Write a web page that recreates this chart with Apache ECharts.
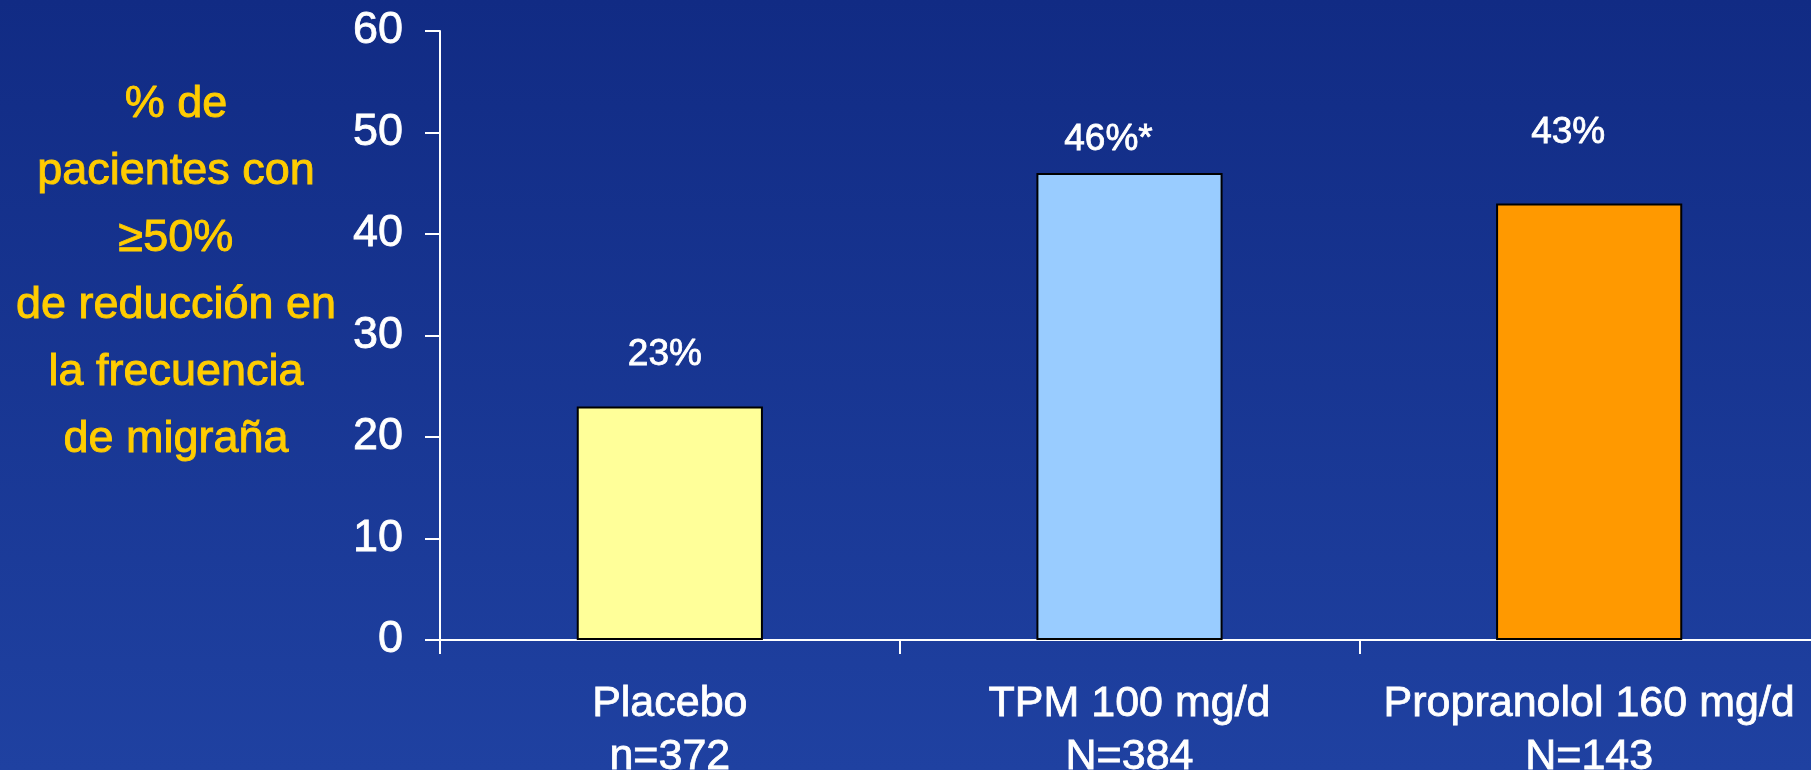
<!DOCTYPE html>
<html>
<head>
<meta charset="utf-8">
<title>Reducción de la frecuencia de migraña</title>
<script src="https://cdn.jsdelivr.net/npm/echarts@6/dist/echarts.min.js"></script>
<style>
  html, body { margin: 0; padding: 0; background: #172f8f; }
  #chart { width: 1811px; height: 770px; }
</style>
</head>
<body>
<div id="chart"></div>
<script>
// Treatment groups (label + sample size)
const categories = ['Placebo\nn=372', 'TPM 100 mg/d\nN=384', 'Propranolol 160 mg/d\nN=143'];
// % of patients with >=50% reduction in migraine frequency
const values = [23, 46, 43];
const valueLabels = ['23%', '46%*', '43%'];
const barColors = ['#FFFF99', '#99CCFF', '#FF9900'];
// Gap between bar top and its value label, and its sideways nudge
const labelGaps = [33, 15, 52];
const labelShifts = [-5, -21, -21];
const yAxisTitle = ['% de', 'pacientes con', '≥50%', 'de reducción en', 'la frecuencia', 'de migraña'];

const FONT = '"Liberation Sans", Arial, Helvetica, sans-serif';

const chart = echarts.init(document.getElementById('chart'), null, { renderer: 'canvas' });

const option = {
  backgroundColor: new echarts.graphic.LinearGradient(0, 0, 0, 1, [
    { offset: 0, color: '#112b84' },
    { offset: 1, color: '#1f41a1' }
  ]),
  animation: false,
  grid: { left: 440, right: -8, top: 31, bottom: 130, containLabel: false, outerBoundsMode: 'none' },
  graphic: [{
    type: 'text',
    x: 176,
    y: 71,
    style: {
      text: yAxisTitle.join('\n'),
      fill: '#FFCC00',
      stroke: '#FFCC00',
      lineWidth: 0.9,
      font: '45px ' + FONT,
      lineHeight: 67,
      textAlign: 'center',
      textVerticalAlign: 'top'
    }
  }],
  xAxis: {
    type: 'category',
    data: categories,
    axisLine: { lineStyle: { color: '#ffffff', width: 2 } },
    axisTick: { show: true, length: 14, lineStyle: { color: '#ffffff', width: 2 } },
    axisLabel: {
      color: '#ffffff',
      fontFamily: FONT,
      fontSize: 43,
      lineHeight: 53,
      margin: 38,
      interval: 0,
      textBorderColor: '#ffffff',
      textBorderWidth: 0.8
    }
  },
  yAxis: {
    type: 'value',
    min: 0,
    max: 60,
    interval: 10,
    splitLine: { show: false },
    axisLine: { show: true, lineStyle: { color: '#ffffff', width: 2 } },
    axisTick: { show: true, length: 15, lineStyle: { color: '#ffffff', width: 2 } },
    axisLabel: {
      color: '#ffffff',
      fontFamily: FONT,
      fontSize: 45,
      margin: 37,
      textBorderColor: '#ffffff',
      textBorderWidth: 0.8
    }
  },
  series: [{
    type: 'bar',
    barWidth: '40.5%',
    data: values.map((v, i) => ({
      value: v,
      itemStyle: { color: barColors[i], borderColor: '#000000', borderWidth: 2 },
      label: {
        show: true,
        position: 'top',
        distance: labelGaps[i],
        offset: [labelShifts[i], 0],
        formatter: valueLabels[i],
        color: '#ffffff',
        fontFamily: FONT,
        fontSize: 37,
        lineHeight: 37,
        textBorderColor: '#ffffff',
        textBorderWidth: 0.8
      }
    }))
  }]
};

chart.setOption(option);
</script>
</body>
</html>
